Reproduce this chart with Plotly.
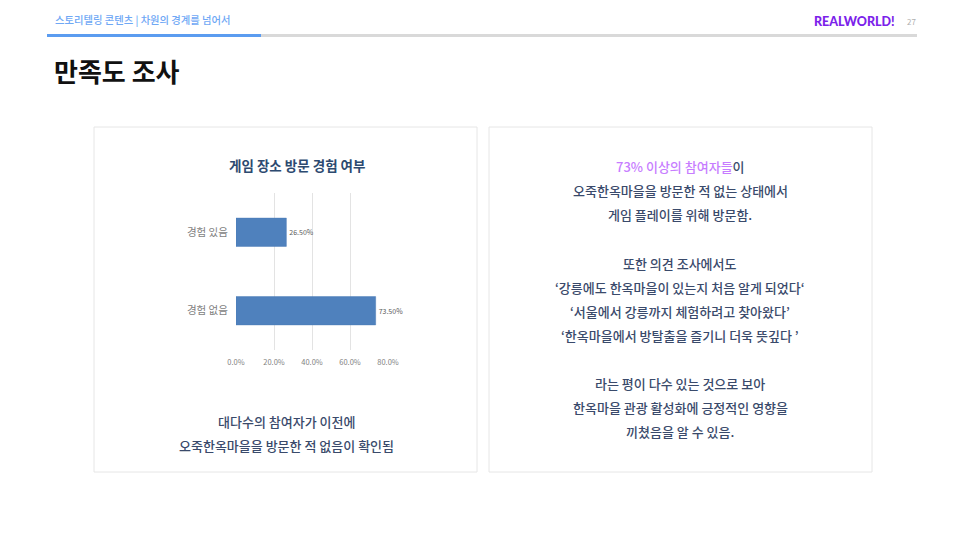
import plotly.graph_objects as go

categories = ["경험 있음", "경험 없음"]
values = [26.5, 73.5]
tick_values = [0, 20, 40, 60, 80]
tick_labels = ["0.0%", "20.0%", "40.0%", "60.0%", "80.0%"]

W, H = 966, 543
FONT = "Noto Sans CJK KR"

def px(x):
    return x / W

def py(y):
    return 1 - y / H

fig = go.Figure()
fig.add_trace(go.Bar(
    x=values, y=categories, orientation="h",
    marker=dict(color="#4f81bd", line=dict(color="#4a7ab5", width=0.5)),
    text=[f"{v:.2f}%" for v in values], textposition="outside",
    textfont=dict(size=7, color="#595959", family=FONT),
    cliponaxis=False, width=0.36, hoverinfo="skip",
))

shapes = []
shapes.append(dict(type="line", xref="paper", yref="paper", x0=px(47), x1=px(917), y0=py(35.5), y1=py(35.5),
                   line=dict(color="#d9d9d9", width=3)))
shapes.append(dict(type="line", xref="paper", yref="paper", x0=px(47), x1=px(261), y0=py(35.5), y1=py(35.5),
                   line=dict(color="#5b9cf0", width=3)))
for x0, x1 in [(94, 477), (489, 872)]:
    shapes.append(dict(type="rect", xref="paper", yref="paper", x0=px(x0), x1=px(x1), y0=py(472), y1=py(127),
                       line=dict(color="#e6e6e6", width=1), fillcolor="rgba(0,0,0,0)", layer="below"))

annotations = []
def txt(x, y, s, size, color, xanchor="center", weight=400, family=FONT):
    annotations.append(dict(x=px(x), y=py(y), xref="paper", yref="paper", text=s, showarrow=False,
                            xanchor=xanchor, yanchor="middle",
                            font=dict(size=size, color=color, family=family, weight=weight)))

txt(53, 19, "스토리텔링 콘텐츠 | 차원의 경계를 넘어서", 10.3, "#6fa8f5", xanchor="left", weight=500)
txt(897, 21, "REALWORLD!", 12.5, "#7b22ea", xanchor="right", weight=900, family="Lato")
txt(905, 21, "27", 8, "#b0b0b0", xanchor="left")
txt(52, 70, "만족도 조사", 26, "#111111", xanchor="left", weight=700)

txt(297, 165, "게임 장소 방문 경험 여부", 13.5, "#2d4a70", weight=700)
txt(286, 421, "대다수의 참여자가 이전에", 13, "#3a4a6b", weight=500)
txt(286, 445, "오죽한옥마을을 방문한 적 없음이 확인됨", 13, "#3a4a6b", weight=500)

body = "#3a4a6b"
lines = [
    (166, "<span style='color:#c77dff'>73% 이상의 참여자들</span>이"),
    (190, "오죽한옥마을을 방문한 적 없는 상태에서"),
    (214, "게임 플레이를 위해 방문함."),
    (263, "또한 의견 조사에서도"),
    (287, "‘강릉에도 한옥마을이 있는지 처음 알게 되었다‘"),
    (311, "‘서울에서 강릉까지 체험하려고 찾아왔다’"),
    (335, "‘한옥마을에서 방탈출을 즐기니 더욱 뜻깊다 ’"),
    (383, "라는 평이 다수 있는 것으로 보아"),
    (407, "한옥마을 관광 활성화에 긍정적인 영향을"),
    (431, "끼쳤음을 알 수 있음."),
]
for y, s in lines:
    txt(680, y, s, 13, body, weight=500)

fig.update_layout(
    width=W, height=H, autosize=False, margin=dict(l=0, r=0, t=0, b=0, pad=0),
    paper_bgcolor="white", plot_bgcolor="white", showlegend=False,
    shapes=shapes, annotations=annotations,
    font=dict(family=FONT),
    xaxis=dict(domain=[px(236), px(388)], range=[0, 80], tickvals=tick_values, ticktext=tick_labels,
               showgrid=True, gridcolor="#e3e3e3", gridwidth=1, zeroline=False, showline=False,
               tickfont=dict(size=7.5, color="#7f7f7f"), ticks="outside", ticklen=5,
               tickcolor="rgba(0,0,0,0)", fixedrange=True, automargin=False),
    yaxis=dict(domain=[py(350), py(193)], categoryorder="array", categoryarray=categories[::-1],
               showgrid=False, zeroline=False, showline=False, ticks="outside", ticklen=5,
               tickcolor="rgba(0,0,0,0)",
               tickfont=dict(size=10.5, color="#7f7f7f"), fixedrange=True, automargin=False),
)
post = ("document.body.style.margin='0';document.body.style.padding='0';"
        "document.documentElement.style.overflow='hidden';document.body.style.overflow='hidden';"
        "Plotly.relayout('{plot_id}', {width: 966, height: 543});")
fig.write_html("out.html", config={"responsive": False, "displayModeBar": False}, post_script=post)
